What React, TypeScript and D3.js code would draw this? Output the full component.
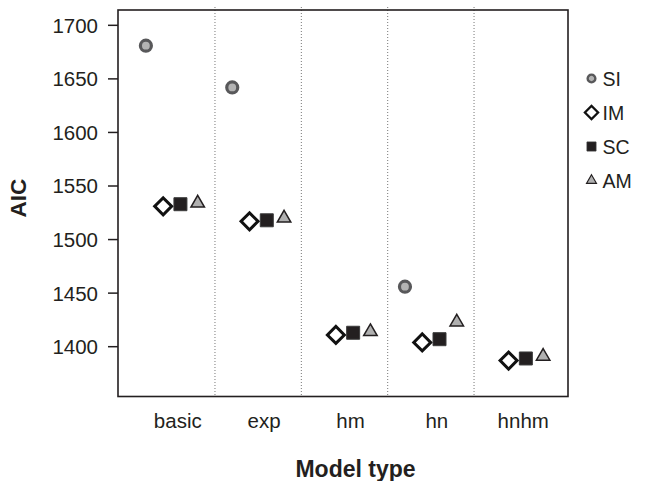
import React from "react";
import * as d3 from "d3";

const categories = ["basic", "exp", "hm", "hn", "hnhm"];
const seriesNames = ["SI", "IM", "SC", "AM"];
const siValues: (number | null)[] = [1681, 1642, null, 1456, null];
const imValues: (number | null)[] = [1531, 1517, 1411, 1404, 1387];
const scValues: (number | null)[] = [1533, 1518, 1413, 1407, 1389];
const amValues: (number | null)[] = [1534, 1520, 1414, 1423, 1391];
const yTicks = [1400, 1450, 1500, 1550, 1600, 1650, 1700];
const xTitle = "Model type";
const yTitle = "AIC";

const W = 645;
const H = 481;
const M = { left: 118, right: 568, top: 10, bottom: 396.5 };

const seriesValues = [siValues, imValues, scValues, amValues];
const seriesOffsets = [-0.3, -0.1, 0.1, 0.3];

const x = d3.scaleLinear().domain([-0.623, 4.588]).range([M.left, M.right]);
const y = d3.scaleLinear().domain([1353.5, 1714.3]).range([M.bottom, M.top]);

type Style = { fill: string; stroke: string; sw: number };
const styles: Style[] = [
  { fill: "#b3b3b3", stroke: "#58585a", sw: 3.2 },
  { fill: "#ffffff", stroke: "#111111", sw: 3 },
  { fill: "#231f20", stroke: "#3a3a3a", sw: 1 },
  { fill: "#b0b0b0", stroke: "#231f20", sw: 1.5 },
];

function markerPath(i: number, big: boolean): { d: string; rot: number } {
  const s = big ? 1 : 0.7;
  if (i === 0) return { d: d3.symbol(d3.symbolCircle, Math.PI * (5.5 * s) ** 2)()!, rot: 0 };
  if (i === 1) return { d: d3.symbol(d3.symbolSquare, (12 * (big ? 1 : 0.78)) ** 2)()!, rot: 45 };
  if (i === 2) return { d: d3.symbol(d3.symbolSquare, (13 * s) ** 2)()!, rot: 0 };
  const side = big ? 13.5 : 10;
  return { d: d3.symbol(d3.symbolTriangle, (Math.sqrt(3) / 4) * side * side)()!, rot: 0 };
}

function Marker({ i, cx, cy, big }: { i: number; cx: number; cy: number; big: boolean }) {
  const st = styles[i];
  const m = markerPath(i, big);
  return (
    <path
      d={m.d}
      transform={`translate(${cx},${cy}) rotate(${m.rot})`}
      fill={st.fill}
      stroke={st.stroke}
      strokeWidth={big ? st.sw : st.sw * 0.75}
    />
  );
}

export default function App() {
  const font = "'Liberation Sans', Arial, Helvetica, sans-serif";
  const separators = d3.range(categories.length - 1).map((i) => i + 0.5);
  return (
    <svg
      width={W}
      height={H}
      style={{ position: "absolute", left: 0, top: 0, background: "#fff" }}
      fontFamily={font}
    >
      <rect x={0} y={0} width={W} height={H} fill="#fff" />
      {separators.map((s) => (
        <line
          key={s}
          x1={x(s)}
          x2={x(s)}
          y1={M.top - 3}
          y2={M.bottom}
          stroke="#777"
          strokeWidth={1}
          strokeDasharray="1,2"
        />
      ))}
      {seriesValues.map((vals, si) =>
        vals.map((v, ci) =>
          v == null ? null : (
            <Marker key={`${si}-${ci}`} i={si} cx={x(ci + seriesOffsets[si])} cy={y(v)} big={true} />
          )
        )
      )}
      <rect
        x={M.left}
        y={M.top}
        width={M.right - M.left}
        height={M.bottom - M.top}
        fill="none"
        stroke="#231f20"
        strokeWidth={1.6}
      />
      {yTicks.map((t) => (
        <g key={t}>
          <line x1={M.left - 10} x2={M.left} y1={y(t)} y2={y(t)} stroke="#231f20" strokeWidth={1.5} />
          <text x={98} y={y(t)} dy="0.36em" textAnchor="end" fontSize={20.5} fill="#231f20">
            {t}
          </text>
        </g>
      ))}
      {categories.map((c, i) => (
        <text key={c} x={x(i) + 6} y={428} textAnchor="middle" fontSize={20.5} fill="#231f20">
          {c}
        </text>
      ))}
      <text x={355.5} y={476.5} textAnchor="middle" fontSize={23} fontWeight="bold" fill="#231f20">
        {xTitle}
      </text>
      <text
        transform={`translate(25.5,198) rotate(-90)`}
        textAnchor="middle"
        fontSize={22.5}
        fontWeight="bold"
        fill="#231f20"
      >
        {yTitle}
      </text>
      {seriesNames.map((n, i) => (
        <g key={n}>
          <Marker i={i} cx={591.5} cy={78.5 + i * 34} big={false} />
          <text x={602.5} y={78.5 + i * 34} dy="0.36em" fontSize={19.5} fill="#231f20">
            {n}
          </text>
        </g>
      ))}
    </svg>
  );
}
